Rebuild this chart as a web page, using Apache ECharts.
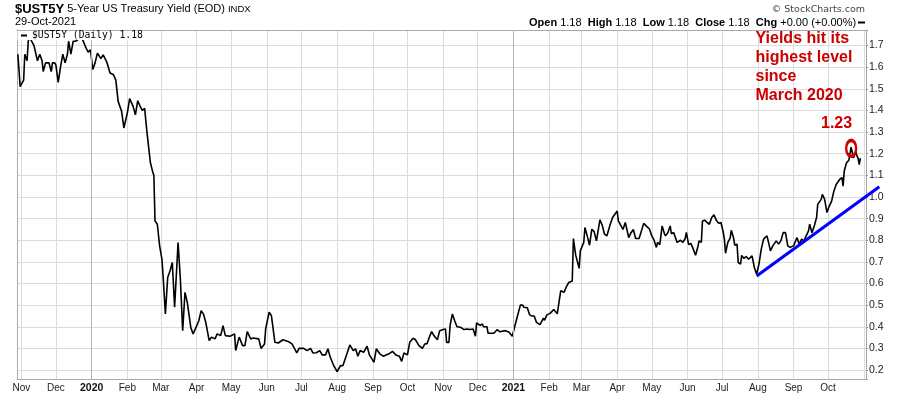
<!DOCTYPE html>
<html>
<head>
<meta charset="utf-8">
<script src="https://cdn.jsdelivr.net/npm/echarts@6/dist/echarts.min.js"></script>
<style>html,body{margin:0;padding:0;background:#fff}#c{width:900px;height:396px}</style>
</head>
<body>
<div id="c"></div>
<script>
const dates = [
'2019-10-29','2019-10-31','2019-11-03','2019-11-04','2019-11-06','2019-11-07','2019-11-08','2019-11-09','2019-11-12','2019-11-15','2019-11-17','2019-11-19','2019-11-20','2019-11-22','2019-11-25','2019-11-27','2019-11-28','2019-11-30',
'2019-12-01','2019-12-03','2019-12-05','2019-12-07','2019-12-09','2019-12-11','2019-12-12','2019-12-14','2019-12-16','2019-12-18','2019-12-21','2019-12-24','2019-12-27','2019-12-29','2019-12-31',
'2020-01-02','2020-01-04','2020-01-06','2020-01-09','2020-01-11','2020-01-14','2020-01-15','2020-01-17','2020-01-20','2020-01-22','2020-01-24','2020-01-25','2020-01-27','2020-01-29',
'2020-02-01','2020-02-03','2020-02-06','2020-02-08','2020-02-10','2020-02-12','2020-02-14','2020-02-16','2020-02-18','2020-02-21','2020-02-23','2020-02-24','2020-02-25','2020-02-27','2020-02-29',
'2020-03-02','2020-03-03','2020-03-05','2020-03-07','2020-03-09','2020-03-11','2020-03-13','2020-03-16','2020-03-18','2020-03-20','2020-03-22','2020-03-24','2020-03-27','2020-03-29','2020-03-31',
'2020-04-03','2020-04-05','2020-04-07','2020-04-09','2020-04-10','2020-04-12','2020-04-14','2020-04-17','2020-04-19','2020-04-22','2020-04-24','2020-04-26','2020-04-30',
'2020-05-04','2020-05-05','2020-05-08','2020-05-11','2020-05-13','2020-05-15','2020-05-18','2020-05-20','2020-05-25','2020-05-27','2020-05-30','2020-05-31',
'2020-06-03','2020-06-05','2020-06-08','2020-06-11','2020-06-15','2020-06-20','2020-06-23','2020-06-27','2020-06-29',
'2020-07-03','2020-07-06','2020-07-09','2020-07-11','2020-07-14','2020-07-17','2020-07-19','2020-07-22','2020-07-24','2020-07-26','2020-07-29',
'2020-08-01','2020-08-04','2020-08-06','2020-08-09','2020-08-12','2020-08-15','2020-08-17','2020-08-19','2020-08-21','2020-08-24','2020-08-27','2020-08-29',
'2020-09-02','2020-09-04','2020-09-07','2020-09-10','2020-09-15','2020-09-18','2020-09-21','2020-09-24','2020-09-26','2020-09-28',
'2020-10-01','2020-10-03','2020-10-06','2020-10-08','2020-10-09','2020-10-11','2020-10-14','2020-10-16','2020-10-18','2020-10-20','2020-10-22','2020-10-24','2020-10-27','2020-10-29',
'2020-11-01','2020-11-03','2020-11-04','2020-11-06','2020-11-07','2020-11-09','2020-11-11','2020-11-13','2020-11-16','2020-11-19','2020-11-22','2020-11-24','2020-11-27','2020-11-29','2020-11-30',
'2020-12-03','2020-12-05','2020-12-06','2020-12-09','2020-12-10','2020-12-15','2020-12-18','2020-12-20','2020-12-25','2020-12-28','2020-12-31',
'2021-01-03','2021-01-05','2021-01-07','2021-01-09','2021-01-10','2021-01-13','2021-01-15','2021-01-17','2021-01-19','2021-01-21','2021-01-24','2021-01-26','2021-01-27','2021-01-28','2021-01-30',
'2021-02-02','2021-02-05','2021-02-08','2021-02-09','2021-02-11','2021-02-14','2021-02-16','2021-02-18','2021-02-19','2021-02-21','2021-02-22','2021-02-24','2021-02-27','2021-02-28',
'2021-03-03','2021-03-04','2021-03-06','2021-03-08','2021-03-10','2021-03-12','2021-03-14','2021-03-17','2021-03-19','2021-03-21','2021-03-23','2021-03-26','2021-03-28','2021-03-30',
'2021-04-01','2021-04-02','2021-04-04','2021-04-06','2021-04-08','2021-04-09','2021-04-11','2021-04-13','2021-04-15','2021-04-17','2021-04-20','2021-04-24','2021-04-27','2021-04-29',
'2021-05-01','2021-05-03','2021-05-05','2021-05-06','2021-05-08','2021-05-10','2021-05-12','2021-05-13','2021-05-15','2021-05-17','2021-05-18','2021-05-20','2021-05-23','2021-05-26','2021-05-28','2021-05-30','2021-05-31',
'2021-06-02','2021-06-04','2021-06-06','2021-06-08','2021-06-10','2021-06-11','2021-06-13','2021-06-14','2021-06-16','2021-06-18','2021-06-20','2021-06-22','2021-06-24','2021-06-26','2021-06-28','2021-06-30',
'2021-07-02','2021-07-03','2021-07-04','2021-07-06','2021-07-08','2021-07-09','2021-07-11','2021-07-12','2021-07-14','2021-07-15','2021-07-17','2021-07-18','2021-07-20','2021-07-22','2021-07-24','2021-07-27','2021-07-29','2021-07-31',
'2021-08-02','2021-08-04','2021-08-06','2021-08-09','2021-08-10','2021-08-12','2021-08-14','2021-08-17','2021-08-19','2021-08-21','2021-08-23','2021-08-25','2021-08-27','2021-08-29',
'2021-09-01','2021-09-04','2021-09-06','2021-09-08','2021-09-10','2021-09-12','2021-09-14','2021-09-15','2021-09-17','2021-09-19','2021-09-21','2021-09-22','2021-09-25','2021-09-26','2021-09-28','2021-09-30',
'2021-10-02','2021-10-04','2021-10-06','2021-10-08','2021-10-11','2021-10-13','2021-10-14','2021-10-15','2021-10-17','2021-10-19','2021-10-20','2021-10-21','2021-10-23','2021-10-25','2021-10-26','2021-10-27','2021-10-28','2021-10-29'
];
const yields = [
1.66,1.51,1.54,1.66,1.63,1.72,1.74,1.74,1.70,1.63,1.66,1.63,1.58,1.62,1.62,1.58,1.62,1.62,
1.61,1.53,1.60,1.66,1.62,1.66,1.72,1.66,1.72,1.72,1.73,1.73,1.69,1.67,1.68,
1.59,1.62,1.665,1.64,1.657,1.626,1.634,1.573,1.565,1.54,1.442,1.45,1.396,1.319,
1.389,1.455,1.419,1.38,1.445,1.42,1.40,1.41,1.30,1.158,1.116,1.10,0.889,0.874,0.774,
0.712,0.636,0.459,0.628,0.658,0.697,0.49,0.789,0.62,0.382,0.559,0.513,0.398,0.367,0.39,
0.428,0.474,0.459,0.421,0.43,0.336,0.352,0.344,0.367,0.359,0.405,0.359,0.356,
0.367,0.29,0.352,0.313,0.313,0.378,0.344,0.348,0.344,0.30,0.32,0.39,
0.467,0.451,0.328,0.325,0.34,0.331,0.32,0.279,0.30,
0.30,0.29,0.30,0.279,0.28,0.29,0.27,0.27,0.298,0.26,0.221,
0.193,0.221,0.22,0.267,0.316,0.29,0.298,0.264,0.29,0.282,0.31,0.27,
0.236,0.298,0.275,0.264,0.275,0.286,0.27,0.264,0.24,0.279,
0.27,0.328,0.347,0.34,0.342,0.313,0.30,0.32,0.322,0.352,0.378,0.359,0.34,0.382,
0.387,0.39,0.328,0.328,0.405,0.459,0.428,0.40,0.398,0.387,0.39,0.387,0.39,0.356,0.418,
0.406,0.413,0.40,0.40,0.37,0.37,0.387,0.377,0.382,0.376,0.356,
0.42,0.46,0.50,0.50,0.49,0.488,0.455,0.45,0.45,0.42,0.41,0.43,0.44,0.43,0.455,
0.463,0.48,0.46,0.455,0.566,0.56,0.586,0.605,0.60,0.612,0.808,0.731,0.67,0.751,
0.79,0.859,0.82,0.777,0.851,0.84,0.797,0.894,0.87,0.828,0.82,0.874,0.905,0.92,
0.935,0.89,0.87,0.85,0.882,0.86,0.812,0.835,0.85,0.808,0.808,0.878,0.862,0.852,
0.82,0.80,0.767,0.79,0.78,0.866,0.83,0.82,0.836,0.866,0.83,0.836,0.79,0.80,0.79,0.808,0.836,
0.78,0.785,0.759,0.731,0.77,0.797,0.79,0.889,0.893,0.882,0.874,0.905,0.918,0.892,0.878,0.882,
0.838,0.805,0.74,0.79,0.81,0.846,0.81,0.777,0.782,0.697,0.69,0.73,0.716,0.725,0.712,0.728,0.674,0.643,
0.69,0.759,0.805,0.82,0.828,0.751,0.774,0.797,0.782,0.797,0.835,0.835,0.774,0.767,
0.774,0.812,0.782,0.805,0.797,0.82,0.843,0.874,0.835,0.866,0.905,0.966,0.989,1.012,0.989,0.928,
0.958,0.98,1.027,1.058,1.081,1.09,1.05,1.12,1.158,1.17,1.20,1.23,1.18,1.21,1.19,1.18,1.15,1.18
];
const monthNames = ['Jan','Feb','Mar','Apr','May','Jun','Jul','Aug','Sep','Oct','Nov','Dec'];
const yearLines = ['2020-01-01','2021-01-01'];
const trendDates = ['2021-07-31','2021-11-14 10:00'];
const trendValues = [0.635, 1.047];
const peakDate = '2021-10-21';
const peakValue = 1.225;
const xMin = new Date(2019, 9, 28, 6).getTime();
const xMax = new Date(2021, 10, 2, 21).getTime();
const lastDataTime = new Date(2021, 9, 29).getTime();
const yMin = 0.1585, yMax = 1.772;

const F = '"Liberation Sans", Arial, sans-serif';
const chart = echarts.init(document.getElementById('c'));

const baseGraphic = [
  { type: 'text', x: 15, y: 9, style: {
    text: '{a|$UST5Y} {b|5-Year US Treasury Yield (EOD)} {c|INDX}', verticalAlign: 'middle', fill: '#000',
    rich: {
      a: { fontSize: 13, fontWeight: 'bold', fontFamily: F, fill: '#000' },
      b: { fontSize: 11, fontFamily: F, fill: '#000' },
      c: { fontSize: 9.5, fontFamily: F, fill: '#000' }
    }, fontSize: 11, fontFamily: F } },
  { type: 'text', x: 15, y: 21.7, style: { text: '29-Oct-2021', fontSize: 11, fontFamily: F, fill: '#000', verticalAlign: 'middle' } },
  { type: 'text', x: 865, y: 9.5, style: { text: '\u00a9 StockCharts.com', fontSize: 9.5, fontFamily: '"DejaVu Sans", sans-serif', fill: '#444', align: 'right', verticalAlign: 'middle' } },
  { type: 'text', x: 529, y: 22.5, style: {
    text: '{b|Open} 1.18  {b|High} 1.18  {b|Low} 1.18  {b|Close} 1.18  {b|Chg} +0.00 (+0.00%)',
    fontSize: 11, fontFamily: F, fill: '#000', verticalAlign: 'middle',
    rich: { b: { fontSize: 11, fontWeight: 'bold', fontFamily: F, fill: '#000' } } } },
  { type: 'rect', shape: { x: 858, y: 21.5, width: 7, height: 2 }, style: { fill: '#000' } },
  { type: 'rect', z: 10, shape: { x: 17.5, y: 31, width: 130, height: 9 }, style: { fill: '#fff' } },
  { type: 'rect', z: 11, shape: { x: 21, y: 34.5, width: 6, height: 2 }, style: { fill: '#000' } },
  { type: 'text', z: 11, x: 32, y: 35.5, style: { text: '$UST5Y (Daily) 1.18', fontSize: 9.7, fontFamily: '"DejaVu Sans Mono", monospace', fill: '#000', verticalAlign: 'middle' } },
  { type: 'text', z: 11, x: 755.5, y: 29.4, style: { text: 'Yields hit its\nhighest level\nsince\nMarch 2020', fontSize: 16, fontWeight: 'bold', fontFamily: F, fill: '#cc0000', verticalAlign: 'top', lineHeight: 18.8 } },
  { type: 'text', z: 11, x: 821, y: 123.5, style: { text: '1.23', fontSize: 16, fontWeight: 'bold', fontFamily: F, fill: '#cc0000', verticalAlign: 'middle' } }
];

chart.setOption({
  animation: false,
  backgroundColor: '#fff',
  grid: { left: 17, right: 34, top: 30, bottom: 17, show: false },
  xAxis: [{
    type: 'time', min: xMin, max: xMax, splitNumber: 25,
    axisLine: { show: true, lineStyle: { color: '#aaa' } },
    axisTick: { show: false },
    axisLabel: {
      margin: 4, fontSize: 10, color: '#222', fontFamily: F,
      formatter: function (v) {
        if (v > lastDataTime) return '';
        const d = new Date(v);
        return d.getMonth() === 0 ? '{y|' + d.getFullYear() + '}' : monthNames[d.getMonth()];
      },
      rich: { y: { fontWeight: 'bold', fontSize: 10.5, color: '#111', fontFamily: F } }
    },
    splitLine: { show: true, lineStyle: { color: '#dcdcdc' } }
  }, {
    type: 'time', position: 'top', min: xMin, max: xMax,
    axisLine: { show: true, lineStyle: { color: '#aaa' } },
    axisTick: { show: false }, axisLabel: { show: false }, splitLine: { show: false }
  }],
  yAxis: [{
    type: 'value', position: 'right', min: yMin, max: yMax, splitNumber: 16,
    axisLine: { show: true, lineStyle: { color: '#999', type: 'dotted' } },
    axisTick: { show: true, length: 2, lineStyle: { color: '#999' } },
    axisLabel: {
      margin: 3, fontSize: 10.5, color: '#222', fontFamily: F,
      formatter: function (v) { return Math.abs(v * 10 - Math.round(v * 10)) < 1e-6 ? v.toFixed(1) : ''; }
    },
    splitLine: { show: true, lineStyle: { color: '#dcdcdc' } }
  }, {
    type: 'value', position: 'left', min: yMin, max: yMax,
    axisLine: { show: true, lineStyle: { color: '#aaa' } },
    axisTick: { show: false }, axisLabel: { show: false }, splitLine: { show: false }
  }],
  series: [{
    type: 'line', name: '$UST5Y',
    data: dates.map((d, i) => [d, yields[i]]),
    symbol: 'none', showSymbol: false,
    lineStyle: { color: '#000', width: 1.6 }, z: 3,
    markLine: {
      silent: true, symbol: 'none', label: { show: false },
      lineStyle: { color: '#b4b4b4', type: 'solid', width: 1 },
      data: yearLines.map(d => ({ xAxis: d }))
    }
  }, {
    type: 'scatter', data: [[peakDate, peakValue]], symbol: 'circle', symbolSize: [10, 16],
    itemStyle: { color: 'rgba(0,0,0,0)', borderColor: '#d00000', borderWidth: 3, opacity: 1 }, z: 5
  }],
  graphic: baseGraphic
});

// Trend line: endpoints mapped through the chart's own axes (it runs past the plot edge, as in the original)
const trendPts = trendDates.map((d, i) =>
  chart.convertToPixel({ xAxisIndex: 0, yAxisIndex: 0 }, [echarts.time.parse(d).getTime(), trendValues[i]]));
chart.setOption({
  graphic: baseGraphic.concat([{
    type: 'polyline', z: 8, shape: { points: trendPts },
    style: { stroke: '#0000ff', lineWidth: 3, fill: null }
  }])
});
</script>
</body>
</html>
